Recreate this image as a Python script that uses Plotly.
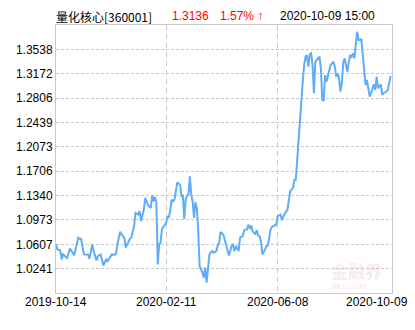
import plotly.graph_objects as go

# ---- data (trading-day index and unit NAV) ----
days = [0,1,3,4,5,7,8,10,11,12,13,15,16,17,18,20,22,23,24,25,26,27,29,30,32,33,34,36,37,39,
        40,42,43,44,46,47,49,50,52,53,54,56,57,59,60,61,63,64,65,66,68,69,70,71,72,73,74,75,76,77,
        79,80,81,82,83,84,85,87,88,89,90,91,92,93,94,95,96,97,98,99,100,101,102,103,105,106,107,108,109,110,
        111,112,113,115,116,117,118,120,121,122,123,124,125,126,127,128,129,130,131,132,134,135,137,138,139,140,
        141,143,144,145,146,147,148,150,151,152,154,155,157,158,159,161,162,163,164,166,167,168,170,171,
        172,173,174,175,176,177,178,179,180,181,182,183,184,185,186,188,189,190,191,192,193,194,196,197,
        199,200,201,202,203,204,205,206,207,209,210,211,212,213,214,215,216,217,218,219,220,221,222,223,
        225,226,228,229,230,231,233,234,235,237,238,240]
nav = [1.0605,1.0530,1.0520,1.0380,1.0455,1.0421,1.0400,1.0545,1.0520,1.0481,1.0440,1.0605,1.0706,1.0691,1.0691,
       1.0455,1.0455,1.0451,1.0391,1.0505,1.0605,1.0505,1.0365,1.0430,1.0455,1.0380,1.0290,1.0380,1.0355,1.0421,
       1.0455,1.0451,1.0460,1.0605,1.0795,1.0755,1.0706,1.0556,1.0655,1.0691,1.0706,1.0879,1.1080,1.1055,1.1104,
       1.0954,1.1130,1.1305,1.1254,1.1190,1.1155,1.1340,1.1254,1.1320,1.1230,1.0305,1.0605,1.0631,1.0840,1.0870,
       1.0930,1.1029,1.1005,1.1130,1.1280,1.1254,1.1280,1.1539,1.1519,1.1504,1.1329,1.1339,1.0990,1.1280,1.1339,
       1.1354,1.1629,1.1354,1.1254,1.1005,1.1239,1.1155,1.0830,1.0280,1.0181,1.0106,1.0256,1.0031,1.0231,1.0455,
       1.0481,1.0505,1.0481,1.0505,1.0590,1.0620,1.0790,1.0755,1.0680,1.0590,1.0505,1.0440,1.0505,1.0590,1.0605,
       1.0505,1.0580,1.0530,1.0505,1.0706,1.0730,1.0820,1.0830,1.0905,1.0840,1.0890,1.0805,1.0755,1.0820,1.0740,
       1.0730,1.0655,1.0455,1.0530,1.0580,1.0590,1.0840,1.0870,1.0890,1.0905,1.1029,1.1055,1.0970,1.1020,1.1065,
       1.1130,1.1305,1.1404,1.1455,1.1579,1.1579,1.1904,1.2104,1.2403,1.2902,1.3052,1.3303,1.3427,1.3452,1.3277,
       1.3463,1.3478,1.3303,1.2879,1.3352,1.3403,1.3427,1.3253,1.2778,1.2763,1.3153,1.3052,1.3253,1.3303,1.3352,
       1.3277,1.3127,1.3178,1.3103,1.2903,1.3028,1.3328,1.3403,1.3202,1.3352,1.3452,1.3427,1.3478,1.3403,1.3602,
       1.3802,1.3677,1.3677,1.3692,1.3452,1.3303,1.3003,1.3078,1.2828,1.2879,1.3013,1.2928,1.3127,1.2953,1.3013,
       1.2853,1.2879,1.2903,1.2928,1.3136]

y_ticks = [1.0241, 1.0607, 1.0973, 1.1340, 1.1706, 1.2073, 1.2439, 1.2806, 1.3172, 1.3538]
y_range = [0.9875, 1.3904]
x_tick_days = [0, 79, 159, 241]
x_tick_labels = ["2019-10-14", "2020-02-11", "2020-06-08", "2020-10-09"]
total_days = 241

fund_name = "量化核心[360001]"
last_nav = "1.3136"
change = "1.57% ↑"
stamp = "2020-10-09 15:00"

FONT = "Liberation Sans, Noto Sans CJK SC, sans-serif"
W, H = 415, 330
ML, MR, MT, MB = 56, 23, 25, 37
PW, PH = W - ML - MR, H - MT - MB

def px_x(p):
    return (p - ML) / PW

def px_y(p):
    return (H - MB - p) / PH

fig = go.Figure()
fig.add_trace(go.Scatter(x=days, y=nav, mode="lines",
                         line=dict(color="#5eadf6", width=2), hoverinfo="skip"))

annotations = []
# title pieces
annotations.append(dict(text=fund_name, x=px_x(54), y=px_y(16), xanchor="left", yanchor="middle",
                        font=dict(size=12, color="#000000", family="Noto Sans CJK SC, " + FONT)))
annotations.append(dict(text=last_nav, x=px_x(170), y=px_y(16), xanchor="left", yanchor="middle",
                        font=dict(size=12, color="#ff0000", family=FONT)))
annotations.append(dict(text=change, x=px_x(218), y=px_y(16), xanchor="left", yanchor="middle",
                        font=dict(size=12, color="#ff0000", family=FONT)))
annotations.append(dict(text=stamp, x=px_x(278), y=px_y(16), xanchor="left", yanchor="middle",
                        font=dict(size=12, color="#000000", family=FONT)))
# x tick labels
for i, (d, lab) in enumerate(zip(x_tick_days, x_tick_labels)):
    if i == len(x_tick_days) - 1:
        annotations.append(dict(text=lab, x=px_x(410), y=px_y(302), xanchor="right", yanchor="middle",
                                font=dict(size=12, color="#000000", family=FONT)))
    else:
        annotations.append(dict(text=lab, x=d / total_days, y=px_y(302), xanchor="center", yanchor="middle",
                                font=dict(size=12, color="#000000", family=FONT)))
# watermark
annotations.append(dict(text="<b>金融界</b>", x=px_x(356), y=px_y(270), xanchor="center", yanchor="middle",
                        font=dict(size=17, color="rgba(225,185,185,0.3)", family="Noto Sans CJK SC")))
annotations.append(dict(text="<i><b>JRJ</b>.COM</i>", x=px_x(348), y=px_y(286), xanchor="center", yanchor="middle",
                        font=dict(size=8, color="rgba(225,185,185,0.35)", family=FONT)))
for a in annotations:
    a.update(xref="paper", yref="paper", showarrow=False)

fig.update_layout(
    width=W, height=H,
    margin=dict(l=ML, r=MR, t=MT, b=MB),
    paper_bgcolor="white", plot_bgcolor="white",
    showlegend=False,
    annotations=annotations,
    xaxis=dict(range=[0, total_days], tickvals=x_tick_days[1:3], showticklabels=False,
               showgrid=True, gridcolor="#c8c8c8", griddash="5px,4px", gridwidth=1,
               zeroline=False, showline=True, linecolor="#c8c8c8", linewidth=1, mirror=True,
               ticks=""),
    yaxis=dict(range=y_range, tickvals=y_ticks, ticktext=[f"{v:.4f}" for v in y_ticks],
               showgrid=True, gridcolor="#c8c8c8", griddash="3px,2px", gridwidth=1,
               zeroline=False, showline=True, linecolor="#c8c8c8", linewidth=1, mirror=True,
               ticks="", tickfont=dict(size=12, color="#000000", family=FONT)),
)

fig.write_html("out.html")
